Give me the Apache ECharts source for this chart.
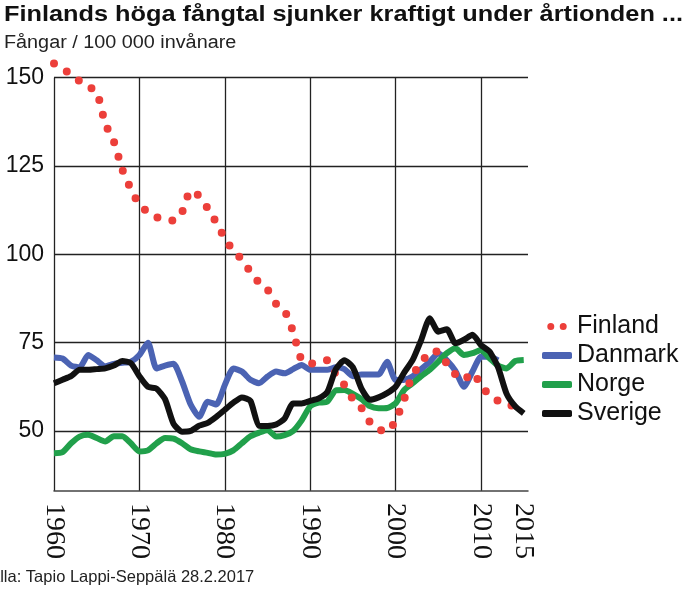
<!DOCTYPE html>
<html>
<head>
<meta charset="utf-8">
<script src="https://cdn.jsdelivr.net/npm/echarts@6/dist/echarts.min.js"></script>
<style>
  html, body { margin: 0; padding: 0; background: #fff; }
  #chart { width: 700px; height: 589px; }
</style>
</head>
<body>
<div id="chart"></div>
<script>
    var years = [];
    for (var y = 1960; y <= 2015; y++) years.push(y);

    var finland = [154, 152.5, 151, 149, 147.5, 146, 137, 132, 124, 118.5,
        114, 112, 110.5, 110, 109.5, 112, 118, 116.5, 113, 109,
        104.5, 101, 98.5, 95, 92, 90, 86, 84, 78, 70,
        69, 69.5, 70, 66, 63, 59, 56.5, 52.5, 50.5, 49.8,
        53, 59, 66, 69, 72.5, 72.5, 69, 66, 64.5, 66.5,
        63, 60, 58.5, 57.5, 57, null];
    var danmark = [70.8, 70.5, 68.5, 68, 71.5, 70, 68.3, 69, 69.3, 69.6,
        71.5, 75, 67.7, 68.5, 69, 64, 57.5, 54, 58.3, 57.5,
        63, 67.7, 66.8, 64.5, 63.5, 65.4, 66.8, 66.3, 67.5, 68.7,
        67.3, 67.3, 67.3, 68, 67.5, 65.5, 66, 66, 66, 69.6,
        64.4, 64.5, 65.5, 67.5, 69.6, 72, 70, 67, 62.5, 66.8,
        71, 71, 70, null, null, null];
    var norge = [43.7, 44, 46.5, 48.4, 48.9, 48, 47, 48.5, 48.5, 46.5,
        44.2, 44.5, 46.5, 48, 47.8, 46.5, 44.8, 44.2, 43.8, 43.3,
        43.5, 44.5, 46.5, 48.5, 49.5, 50.3, 48.4, 48.8, 50, 53,
        57, 58, 58.3, 61.5, 61.6, 60.5, 59, 57, 56.4, 56.5,
        57.8, 61.6, 63.5, 65.5, 67.3, 69.6, 72, 73.4, 71.5, 72,
        72.9, 70.6, 68.5, 67.7, 69.8, 70.1];
    var sverige = [63.5, 64.5, 65.5, 67.3, 67.3, 67.5, 67.7, 68.5, 69.8, 69.2,
        65.5, 62.5, 62, 59, 52, 49.8, 50, 51.5, 52.3, 54,
        56, 58, 59.5, 58.5, 51.5, 51.4, 51.8, 53.5, 57.8, 57.8,
        58.5, 59.2, 61, 67.5, 70, 68, 62, 58.8, 59.5, 60.7,
        62.5, 66.5, 70.1, 75.8, 81.9, 78.1, 78.8, 74.8, 75.8, 77.2,
        74.3, 72.5, 68, 60.5, 57, 55];

    var yTicks = [50, 75, 100, 125, 150];
    var xGrid = [1960, 1970, 1980, 1990, 2000, 2010];
    var xLabels = [1960, 1970, 1980, 1990, 2000, 2010, 2015];

    function pairs(arr) {
        return years.map(function (yr, i) { return [yr, arr[i]]; });
    }

    var colors = {
        Finland: '#ec3f3a',
        Danmark: '#4b63b3',
        Norge: '#21a04b',
        Sverige: '#111111'
    };

    var dom = echarts.init(document.getElementById('chart'));
    var option = {
        backgroundColor: '#fff',
        animation: false,
        graphic: [{
            type: 'text', x: 4, y: 4, scaleX: 1.15,
            style: {
                text: 'Finlands höga fångtal sjunker kraftigt under årtionden ...',
                font: 'bold 22px "Liberation Sans"', fill: '#111',
                textAlign: 'left', textVerticalAlign: 'top'
            }
        }, {
            type: 'text', x: 4, y: 34, scaleX: 1.1,
            style: {
                text: 'Fångar / 100 000 invånare',
                font: '18px "Liberation Sans"', fill: '#222',
                textAlign: 'left', textVerticalAlign: 'top'
            }
        }, {
            type: 'text', x: -20, y: 569,
            style: {
                text: 'Källa: Tapio Lappi-Seppälä 28.2.2017',
                font: '16.5px "Liberation Sans"', fill: '#222',
                textAlign: 'left', textVerticalAlign: 'top'
            }
        }],
        grid: {left: 54, right: 172, top: 77.7, bottom: 98},
        legend: {
            orient: 'vertical',
            left: 537, top: 307,
            itemWidth: 30, itemHeight: 7, itemGap: 0,
            textStyle: {fontFamily: 'Liberation Sans', fontSize: 25, color: '#111', lineHeight: 29},
            data: [
                {name: 'Finland', icon: 'path://M4.5,0A4.5,4.5 0 1 1 4.5,9A4.5,4.5 0 1 1 4.5,0ZM20.5,0A4.5,4.5 0 1 1 20.5,9A4.5,4.5 0 1 1 20.5,0Z',
                    itemStyle: {color: colors.Finland}, lineStyle: {width: 0}},
                {name: 'Danmark', icon: 'roundRect', itemStyle: {color: colors.Danmark}, lineStyle: {width: 0}},
                {name: 'Norge', icon: 'roundRect', itemStyle: {color: colors.Norge}, lineStyle: {width: 0}},
                {name: 'Sverige', icon: 'roundRect', itemStyle: {color: colors.Sverige}, lineStyle: {width: 0}}
            ]
        },
        xAxis: {
            type: 'value',
            min: 1960, max: 2015.5, interval: 10,
            axisLine: {show: true, lineStyle: {color: '#444', width: 1.5}},
            axisTick: {show: false, customValues: xGrid},
            splitLine: {show: true, lineStyle: {color: '#222', width: 1.3}},
            axisLabel: {
                customValues: xLabels,
                formatter: function (v) { return String(v); },
                rotate: -90, margin: 12,
                fontFamily: 'Liberation Sans Narrow', fontSize: 28, color: '#111'
            }
        },
        yAxis: {
            type: 'value',
            min: 33, max: 150,
            axisLine: {show: false},
            axisTick: {show: false, customValues: yTicks},
            splitLine: {show: true, lineStyle: {color: '#222', width: 1.3}},
            axisLabel: {
                customValues: yTicks,
                margin: 10,
                fontFamily: 'Liberation Sans', fontSize: 23, color: '#111'
            }
        },
        series: [{
            name: 'Danmark', type: 'line', smooth: 0.2, showSymbol: false,
            lineStyle: {color: colors.Danmark, width: 6, join: 'round'},
            itemStyle: {color: colors.Danmark},
            data: pairs(danmark)
        }, {
            name: 'Norge', type: 'line', smooth: 0.2, showSymbol: false,
            lineStyle: {color: colors.Norge, width: 6, join: 'round'},
            itemStyle: {color: colors.Norge},
            data: pairs(norge)
        }, {
            name: 'Finland', type: 'line', smooth: 0.2, showSymbol: false, clip: false,
            lineStyle: {color: colors.Finland, width: 8, type: [0, 15], cap: 'round'},
            itemStyle: {color: colors.Finland},
            data: pairs(finland)
        }, {
            name: 'Sverige', type: 'line', smooth: 0.2, showSymbol: false,
            lineStyle: {color: colors.Sverige, width: 6, join: 'round'},
            itemStyle: {color: colors.Sverige},
            data: pairs(sverige)
        }]
    };
    dom.setOption(option);
</script>
</body>
</html>
